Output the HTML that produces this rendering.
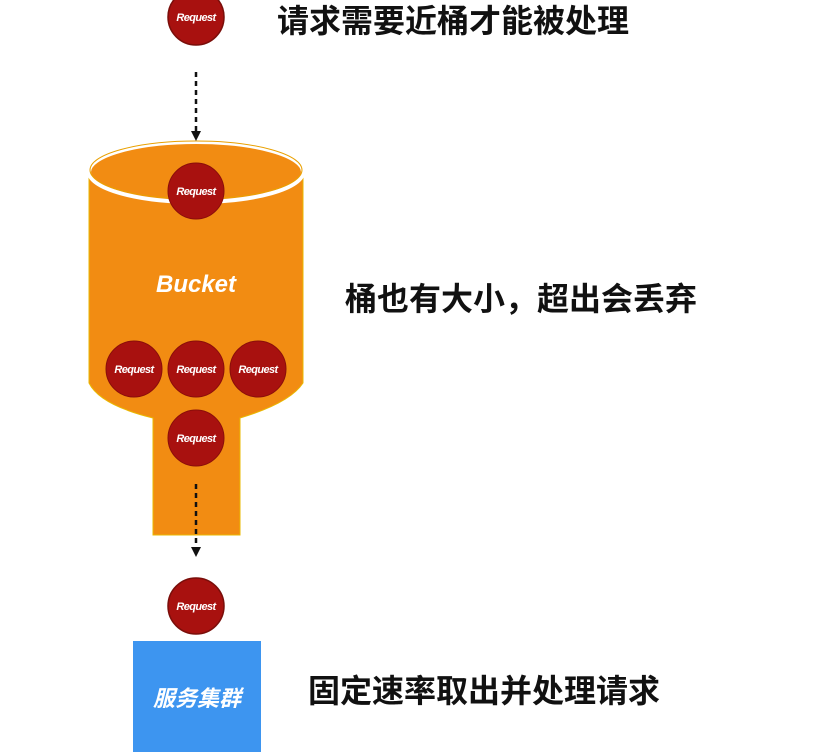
<!DOCTYPE html>
<html><head><meta charset="utf-8"><style>
html,body{margin:0;padding:0;background:#fff;width:832px;height:752px;overflow:hidden}
svg{display:block}
.t{font-family:"Liberation Sans","Noto Sans CJK SC",sans-serif;font-weight:bold;fill:#111}
.r{font-family:"Liberation Sans",sans-serif;font-weight:bold;font-style:italic;fill:#fff;font-size:11px;letter-spacing:-0.6px}
</style></head><body>
<svg width="832" height="752" viewBox="0 0 832 752">
<defs>
<marker id="a" markerWidth="10" markerHeight="10" refX="5" refY="5" orient="auto" markerUnits="userSpaceOnUse">
<path d="M0,0 L10,5 L0,10 z" fill="#111"/></marker>
</defs>
<!-- bucket body -->
<path d="M89,173 L303,173 L303,383 Q290,403 240,418 L240,535 L153,535 L153,418 Q100,405 89,383 Z" fill="#f28c12" stroke="#e9b800" stroke-width="1"/>
<ellipse cx="196" cy="172" rx="107" ry="30" fill="#f28c12" stroke="#fff" stroke-width="4"/>
<ellipse cx="196" cy="170" rx="106" ry="29" fill="none" stroke="#e9a000" stroke-width="1"/>
<text x="196" y="292" text-anchor="middle" font-family="Liberation Sans,sans-serif" font-weight="bold" font-style="italic" font-size="24" fill="#fff">Bucket</text>
<!-- dashed arrows -->
<line x1="196" y1="72" x2="196" y2="136" stroke="#111" stroke-width="2.5" stroke-dasharray="5,4" marker-end="url(#a)"/>
<line x1="196" y1="484" x2="196" y2="552" stroke="#111" stroke-width="2.5" stroke-dasharray="5,4" marker-end="url(#a)"/>
<!-- circles -->
<g>
<circle cx="196" cy="17" r="28" fill="#a8110f" stroke="#7a0e0a" stroke-width="1.5"/><text class="r" x="196" y="21" text-anchor="middle">Request</text>
<circle cx="196" cy="191" r="28" fill="#a8110f" stroke="#8a0e0a"/><text class="r" x="196" y="195" text-anchor="middle">Request</text>
<circle cx="134" cy="369" r="28" fill="#a8110f" stroke="#8a0e0a"/><text class="r" x="134" y="373" text-anchor="middle">Request</text>
<circle cx="196" cy="369" r="28" fill="#a8110f" stroke="#8a0e0a"/><text class="r" x="196" y="373" text-anchor="middle">Request</text>
<circle cx="258" cy="369" r="28" fill="#a8110f" stroke="#8a0e0a"/><text class="r" x="258" y="373" text-anchor="middle">Request</text>
<circle cx="196" cy="438" r="28" fill="#a8110f" stroke="#8a0e0a"/><text class="r" x="196" y="442" text-anchor="middle">Request</text>
<circle cx="196" cy="606" r="28" fill="#a8110f" stroke="#7a0e0a" stroke-width="1.5"/><text class="r" x="196" y="610" text-anchor="middle">Request</text>
</g>
<!-- blue box -->
<rect x="133" y="641" width="128" height="115" fill="#3d95f0"/>
<text x="197" y="706" text-anchor="middle" font-family="Liberation Sans,'Noto Sans CJK SC',sans-serif" font-weight="bold" font-style="italic" font-size="22" fill="#fff">服务集群</text>
<!-- labels -->
<text class="t" x="277" y="32" font-size="32">请求需要近桶才能被处理</text>
<text class="t" x="345" y="310" font-size="32">桶也有大小，超出会丢弃</text>
<text class="t" x="308" y="702" font-size="32">固定速率取出并处理请求</text>
</svg>
</body></html>
